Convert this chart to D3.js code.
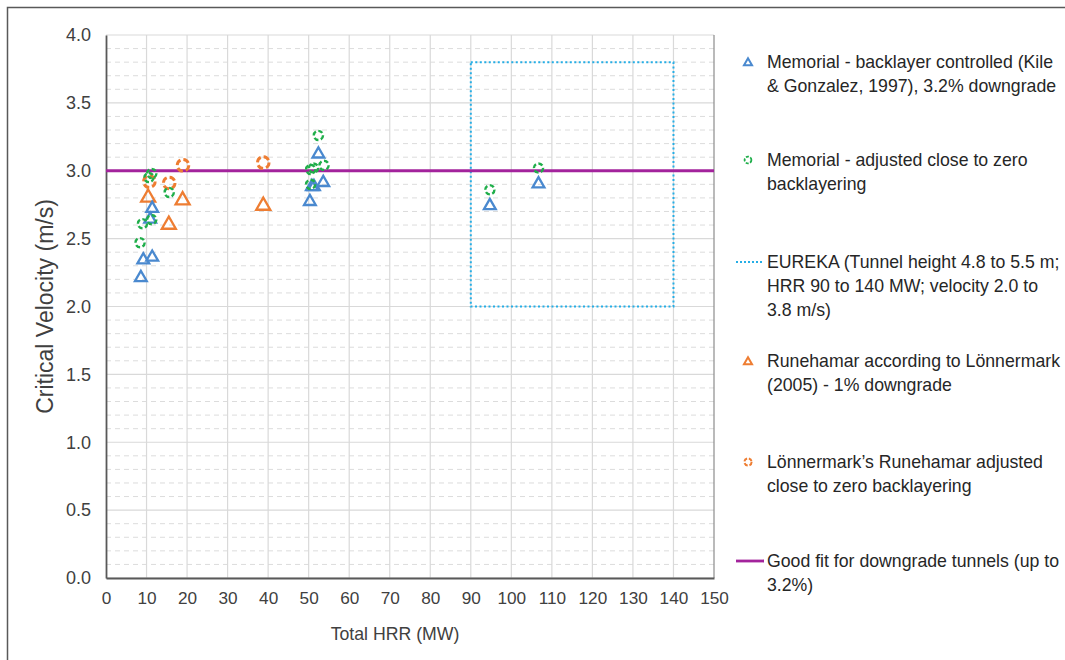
<!DOCTYPE html>
<html>
<head>
<meta charset="utf-8">
<script src="https://cdn.jsdelivr.net/npm/d3@7"></script>
<style>
  body { margin: 0; background: #fff; }
  text { font-family: "Liberation Sans", Arial, sans-serif; fill: #404040; }
</style>
</head>
<body>
<div id="chart"></div>
<script>
// values
var memorialX = [8.6, 9.2, 11.4, 10.9, 11.4, 50.3, 50.8, 51.3, 53.6, 52.4, 94.7, 106.7];
var memorialY = [2.22, 2.35, 2.37, 2.65, 2.73, 2.78, 2.89, 2.89, 2.92, 3.13, 2.75, 2.91];
var memorialAdjX = [8.4, 9.0, 11.3, 15.6, 10.6, 11.3, 50.5, 50.5, 51.2, 53.8, 52.4, 94.7, 106.7];
var memorialAdjY = [2.47, 2.61, 2.64, 2.84, 2.95, 2.98, 2.90, 3.01, 3.02, 3.04, 3.26, 2.86, 3.02];
var runeX = [10.4, 15.5, 18.9, 38.8];
var runeY = [2.81, 2.61, 2.79, 2.75];
var runeAdjX = [10.7, 15.6, 19.0, 38.8];
var runeAdjY = [2.92, 2.91, 3.04, 3.06];
var eurekaHRR = [90, 140];
var eurekaVel = [2.0, 3.8];
var goodFitX = [0, 150];
var goodFitY = [3.0, 3.0];

var xTicks = d3.range(0, 151, 10);
var yTicks = d3.range(0, 4.01, 0.5);
var yMinor = d3.range(0, 4.01, 0.1);

var legendLabels = [
  ["Memorial - backlayer controlled (Kile", "& Gonzalez, 1997), 3.2% downgrade"],
  ["Memorial - adjusted close to zero", "backlayering"],
  ["EUREKA (Tunnel height 4.8 to 5.5 m;", "HRR 90 to 140 MW; velocity 2.0 to", "3.8 m/s)"],
  ["Runehamar according to Lönnermark", "(2005) - 1% downgrade"],
  ["Lönnermark\u2019s Runehamar adjusted", "close to zero backlayering"],
  ["Good fit for downgrade tunnels (up to", "3.2%)"]
];

var blue = "#4a89cf", green = "#1fae4a", orange = "#ee7d32", purple = "#a3239c", cyan = "#25aee6";

var width = 1065, height = 660;
var svg = d3.select("#chart").append("svg")
    .attr("width", width)
    .attr("height", height);

// outer frame
svg.append("rect")
    .attr("x", 7.5).attr("y", 7.5)
    .attr("width", 1070).attr("height", 670)
    .attr("fill", "none").attr("stroke", "#595959").attr("stroke-width", 1.5);

var x = d3.scaleLinear().domain([0, 150]).range([106, 714]);
var y = d3.scaleLinear().domain([0, 4]).range([578, 35]);

// minor dashed grid
svg.append("g").selectAll("line").data(yMinor.filter(function(d){ return Math.round(d*10) % 5 != 0; }))
    .enter().append("line")
    .attr("x1", x(0)).attr("x2", x(150))
    .attr("y1", function(d){ return y(d); }).attr("y2", function(d){ return y(d); })
    .attr("stroke", "#dcdcdc").attr("stroke-dasharray", "5,4").attr("stroke-width", 1);

// major grid
svg.append("g").selectAll("line").data(yTicks)
    .enter().append("line")
    .attr("x1", x(0)).attr("x2", x(150))
    .attr("y1", function(d){ return y(d); }).attr("y2", function(d){ return y(d); })
    .attr("stroke", "#d9d9d9").attr("stroke-width", 1.2);
svg.append("g").selectAll("line").data(xTicks.slice(1, -1))
    .enter().append("line")
    .attr("x1", function(d){ return x(d); }).attr("x2", function(d){ return x(d); })
    .attr("y1", y(0)).attr("y2", y(4))
    .attr("stroke", "#d9d9d9").attr("stroke-width", 1.2);

// right edge of plot
svg.append("line")
    .attr("x1", x(150)).attr("x2", x(150)).attr("y1", y(0)).attr("y2", y(4))
    .attr("stroke", "#8c8c8c").attr("stroke-width", 1.2);

// axes
var xAxis = svg.append("g").attr("transform", "translate(0," + y(0) + ")")
    .call(d3.axisBottom(x).tickValues(xTicks).tickSize(0).tickPadding(14));
var yAxis = svg.append("g").attr("transform", "translate(" + x(0) + ",0)")
    .call(d3.axisLeft(y).tickValues(yTicks).tickSize(0).tickPadding(15).tickFormat(d3.format(".1f")));
[xAxis, yAxis].forEach(function(a){
    a.select(".domain").attr("stroke", "#595959").attr("stroke-width", 1.8);
    a.selectAll("text").style("fill", "#404040")
        .attr("font-family", "Liberation Sans, Arial, sans-serif");
});
xAxis.selectAll("text").attr("font-size", 17.2);
yAxis.selectAll("text").attr("font-size", 18);

// axis titles
svg.append("text")
    .attr("x", 395).attr("y", 640)
    .attr("text-anchor", "middle").attr("font-size", 17.7)
    .text("Total HRR (MW)");
svg.append("text")
    .attr("transform", "translate(53," + ((y(0) + y(4)) / 2) + ") rotate(-90)")
    .attr("text-anchor", "middle").attr("font-size", 23)
    .text("Critical Velocity (m/s)");

// EUREKA box
svg.append("rect")
    .attr("x", x(eurekaHRR[0])).attr("y", y(eurekaVel[1]))
    .attr("width", x(eurekaHRR[1]) - x(eurekaHRR[0]))
    .attr("height", y(eurekaVel[0]) - y(eurekaVel[1]))
    .attr("fill", "none").attr("stroke", cyan).attr("stroke-width", 2)
    .attr("stroke-dasharray", "2,2.5");

// good fit line
svg.append("path")
    .datum(d3.zip(goodFitX, goodFitY))
    .attr("d", d3.line().x(function(d){ return x(d[0]); }).y(function(d){ return y(d[1]); }))
    .attr("stroke", purple).attr("stroke-width", 2.8).attr("fill", "none");

function triangles(xs, ys, color, size){
    svg.append("g").selectAll("path").data(d3.zip(xs, ys))
        .enter().append("path")
        .attr("d", d3.symbol().type(d3.symbolTriangle).size(size))
        .attr("transform", function(d){ return "translate(" + x(d[0]) + "," + (y(d[1]) + 1) + ")"; })
        .attr("fill", "none").attr("stroke", color).attr("stroke-width", 2.3)
        .attr("stroke-linejoin", "miter");
}
function circles(xs, ys, color, r, sw, dash){
    svg.append("g").selectAll("circle").data(d3.zip(xs, ys))
        .enter().append("circle")
        .attr("cx", function(d){ return x(d[0]); })
        .attr("cy", function(d){ return y(d[1]); })
        .attr("r", r)
        .attr("fill", "none").attr("stroke", color).attr("stroke-width", sw)
        .attr("stroke-dasharray", dash);
}

triangles(runeX, runeY, orange, 85);
circles(runeAdjX, runeAdjY, orange, 5.8, 2.9, "6,3");
triangles(memorialX, memorialY, blue, 60);
circles(memorialAdjX, memorialAdjY, green, 4.6, 2.4, "4.5,2.5");

// legend
var legendY = [62, 160, 262, 361, 462, 561];
var legend = svg.append("g");
legendLabels.forEach(function(lines, i){
    var t = legend.append("text")
        .attr("x", 767).attr("y", legendY[i] + 6)
        .attr("font-size", 17.7).style("fill", "#262626");
    lines.forEach(function(l, j){
        t.append("tspan").attr("x", 767).attr("dy", j == 0 ? 0 : 24).text(l);
    });
});
var sm = d3.symbol().type(d3.symbolTriangle).size(28);
legend.append("path").attr("d", sm).attr("transform", "translate(748," + (legendY[0] + 1) + ")")
    .attr("fill", "none").attr("stroke", blue).attr("stroke-width", 2);
legend.append("circle").attr("cx", 748).attr("cy", legendY[1]).attr("r", 3.4)
    .attr("fill", "none").attr("stroke", green).attr("stroke-width", 1.8).attr("stroke-dasharray", "3,1.5");
legend.append("line").attr("x1", 736).attr("x2", 764).attr("y1", legendY[2]).attr("y2", legendY[2])
    .attr("stroke", cyan).attr("stroke-width", 2).attr("stroke-dasharray", "2,2");
legend.append("path").attr("d", sm).attr("transform", "translate(748," + (legendY[3] + 1) + ")")
    .attr("fill", "none").attr("stroke", orange).attr("stroke-width", 2);
legend.append("circle").attr("cx", 748).attr("cy", legendY[4]).attr("r", 3.6)
    .attr("fill", "none").attr("stroke", orange).attr("stroke-width", 2).attr("stroke-dasharray", "4,1.8");
legend.append("line").attr("x1", 736).attr("x2", 764).attr("y1", legendY[5]).attr("y2", legendY[5])
    .attr("stroke", purple).attr("stroke-width", 2.8);
</script>
</body>
</html>
